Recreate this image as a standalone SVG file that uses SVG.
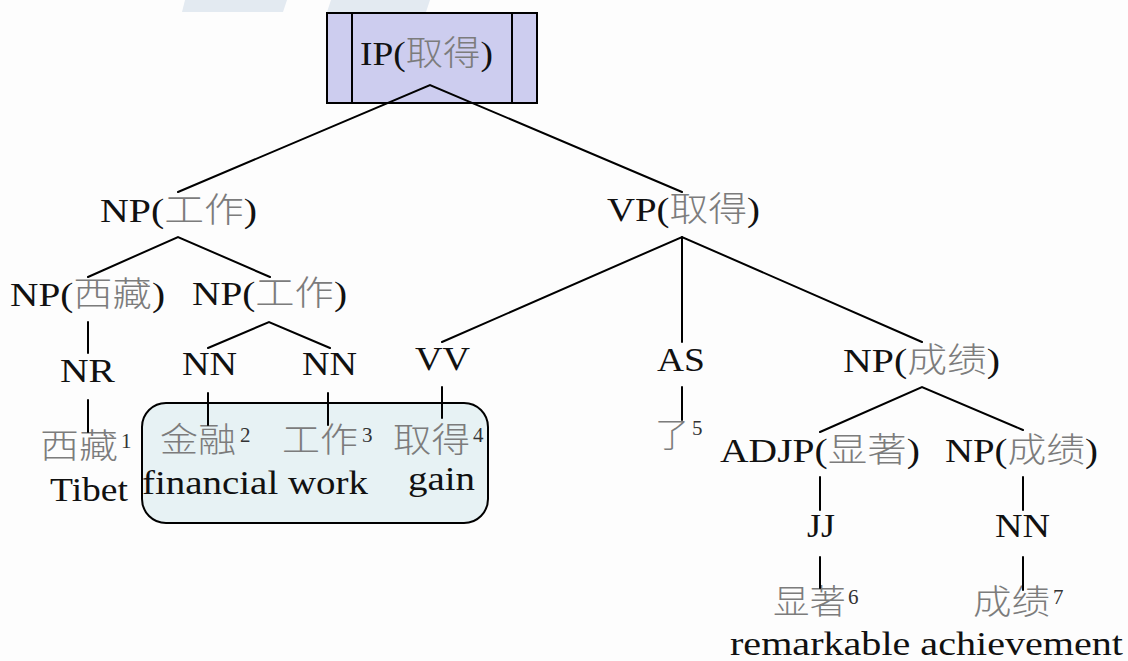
<svg xmlns="http://www.w3.org/2000/svg" width="1128" height="661" viewBox="0 0 1128 661">
<style>
.t{font-family:"Liberation Serif","Noto Sans CJK SC",serif;font-size:34px;fill:#111}
.e{font-family:"Liberation Serif","Times New Roman",serif;font-size:34px;fill:#111}
.cj{fill:#7c7c7c;font-weight:300}
.sup{font-family:"Liberation Serif",serif;font-size:21px;fill:#333}
.ln{stroke:#000;stroke-width:2;fill:none;stroke-linecap:round}
.box{stroke:#000;stroke-width:2}
</style>
<rect width="1128" height="661" fill="#fdfdfd"/>
<g id="watermark" fill="#e3eaf1">
<polygon points="185,0 287,0 283,12 182,12"/>
<polygon points="331,0 430,0 426,12 327,12"/>
</g>
<g id="IP">
<rect class="box" x="327" y="13" width="210" height="90" fill="#cdcdef"/>
<line class="box" x1="352" y1="13" x2="352" y2="103"/>
<line class="box" x1="512" y1="13" x2="512" y2="103"/>
<text class="t" x="360" y="65" textLength="133" lengthAdjust="spacingAndGlyphs">IP(<tspan class="cj">取得</tspan>)</text>
</g>
<g id="group-box">
<rect class="box" x="142" y="403" width="346" height="120" rx="24" fill="#e7f2f4"/>
</g>
<g id="NP-gongzuo">
<text class="t" x="100" y="222" textLength="157" lengthAdjust="spacingAndGlyphs">NP(<tspan class="cj">工作</tspan>)</text>
</g>
<g id="VP-qude">
<text class="t" x="607" y="221" textLength="153" lengthAdjust="spacingAndGlyphs">VP(<tspan class="cj">取得</tspan>)</text>
</g>
<g id="NP-xizang">
<text class="t" x="10" y="306" textLength="155" lengthAdjust="spacingAndGlyphs">NP(<tspan class="cj">西藏</tspan>)</text>
</g>
<g id="NP-gongzuo2">
<text class="t" x="192" y="305" textLength="155" lengthAdjust="spacingAndGlyphs">NP(<tspan class="cj">工作</tspan>)</text>
</g>
<g id="NR">
<text class="e" x="60" y="382" textLength="55" lengthAdjust="spacingAndGlyphs">NR</text>
</g>
<g id="NN1">
<text class="e" x="182" y="375" textLength="55" lengthAdjust="spacingAndGlyphs">NN</text>
</g>
<g id="NN2">
<text class="e" x="302" y="375" textLength="55" lengthAdjust="spacingAndGlyphs">NN</text>
</g>
<g id="VV">
<text class="e" x="415" y="370" textLength="55" lengthAdjust="spacingAndGlyphs">VV</text>
</g>
<g id="AS">
<text class="e" x="657" y="371" textLength="48" lengthAdjust="spacingAndGlyphs">AS</text>
</g>
<g id="NP-chengji">
<text class="t" x="843" y="372" textLength="157" lengthAdjust="spacingAndGlyphs">NP(<tspan class="cj">成绩</tspan>)</text>
</g>
<g id="ADJP-xianzhu">
<text class="t" x="720" y="462" textLength="200" lengthAdjust="spacingAndGlyphs">ADJP(<tspan class="cj">显著</tspan>)</text>
</g>
<g id="NP-chengji2">
<text class="t" x="945" y="462" textLength="153" lengthAdjust="spacingAndGlyphs">NP(<tspan class="cj">成绩</tspan>)</text>
</g>
<g id="JJ">
<text class="e" x="807" y="537" textLength="28" lengthAdjust="spacingAndGlyphs">JJ</text>
</g>
<g id="NN3">
<text class="e" x="995" y="537" textLength="55" lengthAdjust="spacingAndGlyphs">NN</text>
</g>
<g id="w1">
<text class="t cj" x="40" y="458" textLength="78" lengthAdjust="spacingAndGlyphs">西藏</text>
<text class="sup" x="121" y="448">1</text>
<text class="e" x="50" y="501" textLength="78" lengthAdjust="spacingAndGlyphs">Tibet</text>
</g>
<g id="w2">
<text class="t cj" x="160" y="452" textLength="76" lengthAdjust="spacingAndGlyphs">金融</text>
<text class="sup" x="240" y="442">2</text>
</g>
<g id="w3">
<text class="t cj" x="282" y="452" textLength="76" lengthAdjust="spacingAndGlyphs">工作</text>
<text class="sup" x="362" y="442">3</text>
</g>
<g id="w23-gloss">
<text class="e" x="142" y="494" textLength="226" lengthAdjust="spacingAndGlyphs">financial work</text>
</g>
<g id="w4">
<text class="t cj" x="393" y="452" textLength="77" lengthAdjust="spacingAndGlyphs">取得</text>
<text class="sup" x="473" y="442">4</text>
<text class="e" x="408" y="490" textLength="67" lengthAdjust="spacingAndGlyphs">gain</text>
</g>
<g id="w5">
<text class="t cj" x="655" y="447" textLength="34" lengthAdjust="spacingAndGlyphs">了</text>
<text class="sup" x="692" y="435">5</text>
</g>
<g id="w6">
<text class="t cj" x="773" y="614" textLength="73" lengthAdjust="spacingAndGlyphs">显著</text>
<text class="sup" x="848" y="604">6</text>
</g>
<g id="w7">
<text class="t cj" x="973" y="614" textLength="77" lengthAdjust="spacingAndGlyphs">成绩</text>
<text class="sup" x="1053" y="604">7</text>
</g>
<g id="w67-gloss">
<text class="e" x="730" y="655" textLength="393" lengthAdjust="spacingAndGlyphs">remarkable achievement</text>
</g>
<g id="connectors">
<polyline class="ln" points="178,192 430,85 682,192"/>
<polyline class="ln" points="88,277 178,237 270,277"/>
<line class="ln" x1="88" y1="322" x2="88" y2="353"/>
<line class="ln" x1="88" y1="400" x2="88" y2="432"/>
<polyline class="ln" points="208,348 269,322 330,348"/>
<line class="ln" x1="208" y1="393" x2="208" y2="425"/>
<line class="ln" x1="328" y1="393" x2="328" y2="425"/>
<polyline class="ln" points="442,342 682,237 922,342"/>
<line class="ln" x1="682" y1="237" x2="682" y2="342"/>
<line class="ln" x1="442" y1="387" x2="442" y2="418"/>
<line class="ln" x1="682" y1="387" x2="682" y2="420"/>
<polyline class="ln" points="820,432 922,387 1023,430"/>
<line class="ln" x1="820" y1="477" x2="820" y2="510"/>
<line class="ln" x1="1023" y1="477" x2="1023" y2="510"/>
<line class="ln" x1="820" y1="557" x2="820" y2="588"/>
<line class="ln" x1="1023" y1="557" x2="1023" y2="590"/>
</g>
</svg>
